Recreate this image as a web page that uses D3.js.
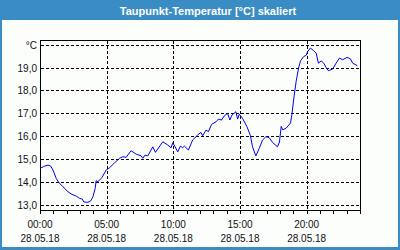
<!DOCTYPE html>
<html>
<head>
<meta charset="utf-8">
<script src="https://cdnjs.cloudflare.com/ajax/libs/d3/7.8.5/d3.min.js"></script>
<style>
body { margin: 0; background: #fff; }
svg { display: block; }
</style>
</head>
<body>
<div id="chart"></div>
<script>
var title_text = 'Taupunkt-Temperatur [°C] skaliert';
var y_unit = '°C';
var date_label = '28.05.18';

// hours since 00:00 and dew point in °C
var hours = [0.00, 0.35, 0.60, 0.80, 0.97, 1.22, 1.40, 1.72, 2.10, 2.34, 2.72, 2.97, 3.17, 3.29, 3.59, 3.79, 3.97,
  4.14, 4.21, 4.34, 4.64, 4.96, 5.22, 5.59, 5.97, 6.21, 6.46, 6.83, 7.21, 7.58, 7.71, 7.88, 8.08, 8.46, 8.66,
  9.21, 9.58, 9.83, 9.96, 10.13, 10.33, 10.53, 10.70, 10.83, 11.13, 11.45, 11.83, 12.07, 12.20, 12.45, 12.63,
  12.87, 13.20, 13.38, 13.62, 13.82, 14.07, 14.24, 14.39, 14.69, 14.82, 14.95, 15.19, 15.52, 15.77, 15.94,
  16.19, 16.44, 16.69, 16.94, 17.19, 17.44, 17.81, 17.96, 18.09, 18.21, 18.47, 18.79, 18.89, 19.04, 19.21,
  19.39, 19.54, 19.78, 19.96, 20.08, 20.28, 20.53, 20.71, 20.88, 21.09, 21.28, 21.46, 21.63, 21.95, 22.21,
  22.46, 22.70, 23.03, 23.28, 23.45, 23.80];
var dewpoint = [14.60, 14.70, 14.74, 14.70, 14.53, 14.16, 13.99, 13.80, 13.58, 13.48, 13.39, 13.29, 13.26, 13.13, 13.12, 13.17, 13.36,
  13.73, 14.06, 14.02, 14.19, 14.53, 14.63, 14.84, 15.04, 15.11, 15.08, 15.37, 15.22, 15.15, 15.04, 15.18, 15.14, 15.54, 15.30,
  15.76, 15.62, 15.50, 15.72, 15.54, 15.32, 15.57, 15.50, 15.57, 15.40, 15.84, 16.06, 16.17, 16.02, 16.27, 16.20,
  16.52, 16.63, 16.75, 16.71, 16.89, 17.00, 16.71, 16.92, 17.07, 16.75, 16.96, 16.78, 16.42, 16.05, 15.54,
  15.14, 15.47, 15.84, 15.98, 15.94, 15.73, 15.54, 15.75, 16.43, 16.28, 16.36, 16.58, 16.94, 17.67, 18.39,
  18.97, 19.29, 19.48, 19.53, 19.70, 19.85, 19.73, 19.63, 19.19, 19.29, 19.19, 19.00, 18.86, 18.93, 19.19,
  19.41, 19.34, 19.44, 19.38, 19.19, 19.08];

var y_ticks = [13, 14, 15, 16, 17, 18, 19, 20];
var x_ticks = [0, 5, 10, 15, 20];
var x_tick_labels = ['00:00', '05:00', '10:00', '15:00', '20:00'];

var width = 400, height = 250;
var blue = '#3a8cc4';
var font = '"Liberation Sans", Arial, sans-serif';

var svg = d3.select('#chart').append('svg')
  .attr('width', width)
  .attr('height', height);

// frame and title bar
svg.append('rect').attr('width', width).attr('height', height).attr('fill', blue);
svg.append('rect')
  .attr('x', 2).attr('y', 20)
  .attr('width', 396).attr('height', 227)
  .attr('fill', '#fcfefc');
svg.append('text')
  .attr('x', 208).attr('y', 14.5)
  .attr('text-anchor', 'middle')
  .attr('fill', '#fff')
  .style('font', 'bold 11px ' + font)
  .text(title_text);

var x = d3.scaleLinear().domain([0, 24]).range([40, 360]);
var y = d3.scaleLinear().domain([12.74, 20.2]).range([211, 40]);

var px = function(v) { return Math.round(v) + 0.5; };

var grid = svg.append('g')
  .attr('stroke', '#000')
  .attr('stroke-width', 1)
  .attr('stroke-dasharray', '3,2');

grid.selectAll('line.h')
  .data(y_ticks)
  .enter()
  .append('line')
  .attr('class', 'h')
  .attr('x1', 41).attr('x2', 360)
  .attr('y1', function(d) { return px(y(d)); })
  .attr('y2', function(d) { return px(y(d)); });

grid.selectAll('line.v')
  .data(x_ticks.slice(1))
  .enter()
  .append('line')
  .attr('class', 'v')
  .attr('y1', 41).attr('y2', 210)
  .attr('x1', function(d) { return px(x(d)); })
  .attr('x2', function(d) { return px(x(d)); });

// hourly ticks under the axis
svg.append('g')
  .selectAll('line')
  .data(d3.range(0, 25))
  .enter()
  .append('line')
  .attr('stroke', '#000')
  .attr('x1', function(d) { return px(x(d)); })
  .attr('x2', function(d) { return px(x(d)); })
  .attr('y1', 211).attr('y2', 214);

svg.append('rect')
  .attr('x', 40.5).attr('y', 40.5)
  .attr('width', 320).attr('height', 170)
  .attr('fill', 'none')
  .attr('stroke', '#000');

var line = d3.line()
  .x(function(d) { return x(d[0]); })
  .y(function(d) { return y(d[1]); });

svg.append('path')
  .datum(d3.zip(hours, dewpoint))
  .attr('d', line)
  .attr('fill', 'none')
  .attr('stroke', '#0000f0')
  .attr('stroke-width', 1);

var fmt = function(d) {
  if (d == 20) return y_unit;
  return d3.format('.1f')(d).replace('.', ',');
};

svg.append('g')
  .selectAll('text')
  .data(y_ticks)
  .enter()
  .append('text')
  .attr('x', 37)
  .attr('y', function(d) { return Math.round(y(d)) + 4; })
  .attr('text-anchor', 'end')
  .attr('fill', '#111')
  .style('font', '10px ' + font)
  .text(fmt);

var xl = svg.append('g')
  .selectAll('g')
  .data(x_ticks)
  .enter()
  .append('g')
  .attr('transform', function(d) { return 'translate(' + x(d) + ',0)'; })
  .style('font', '10px ' + font)
  .attr('fill', '#111')
  .attr('text-anchor', 'middle');

xl.append('text').attr('y', 227.5).text(function(d, i) { return x_tick_labels[i]; });
xl.append('text').attr('y', 241.5).text(date_label);
</script>
</body>
</html>
